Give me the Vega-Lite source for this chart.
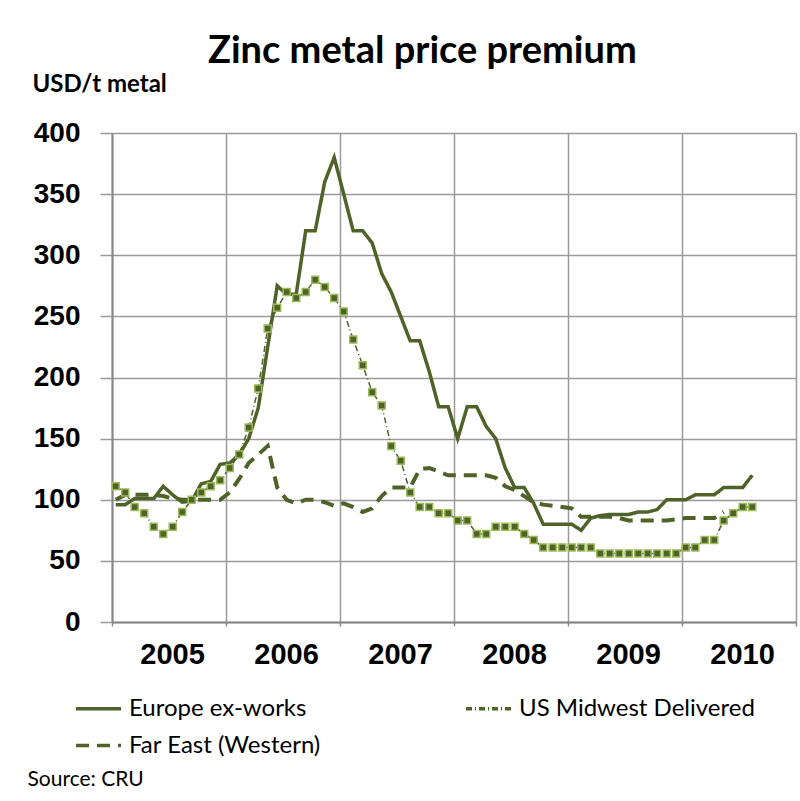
{
  "$schema": "https://vega.github.io/schema/vega-lite/v6.json",
  "autosize": {"type": "none"},
  "padding": {"left": 112, "top": 133, "right": 4, "bottom": 179},
  "width": 684,
  "height": 489,
  "background": "white",
  "config": {"view": {"stroke": null}},
  "title": {
    "text": "Zinc metal price premium",
    "anchor": "start",
    "frame": "group",
    "dx": 96,
    "offset": 1,
    "font": "Lato",
    "fontSize": 38,
    "fontWeight": "bold",
    "color": "#000000"
  },
  "datasets": {
    "prices": [
      {"series": "Europe ex-works", "m": 0, "v": 96},
      {"series": "Europe ex-works", "m": 1, "v": 96},
      {"series": "Europe ex-works", "m": 2, "v": 101},
      {"series": "Europe ex-works", "m": 3, "v": 101},
      {"series": "Europe ex-works", "m": 4, "v": 101},
      {"series": "Europe ex-works", "m": 5, "v": 111},
      {"series": "Europe ex-works", "m": 6, "v": 104},
      {"series": "Europe ex-works", "m": 7, "v": 98},
      {"series": "Europe ex-works", "m": 8, "v": 99},
      {"series": "Europe ex-works", "m": 9, "v": 113},
      {"series": "Europe ex-works", "m": 10, "v": 115},
      {"series": "Europe ex-works", "m": 11, "v": 129},
      {"series": "Europe ex-works", "m": 12, "v": 130},
      {"series": "Europe ex-works", "m": 13, "v": 137},
      {"series": "Europe ex-works", "m": 14, "v": 150},
      {"series": "Europe ex-works", "m": 15, "v": 175},
      {"series": "Europe ex-works", "m": 16, "v": 225},
      {"series": "Europe ex-works", "m": 17, "v": 275},
      {"series": "Europe ex-works", "m": 18, "v": 268},
      {"series": "Europe ex-works", "m": 19, "v": 268},
      {"series": "Europe ex-works", "m": 20, "v": 320},
      {"series": "Europe ex-works", "m": 21, "v": 320},
      {"series": "Europe ex-works", "m": 22, "v": 360},
      {"series": "Europe ex-works", "m": 23, "v": 380},
      {"series": "Europe ex-works", "m": 24, "v": 350},
      {"series": "Europe ex-works", "m": 25, "v": 320},
      {"series": "Europe ex-works", "m": 26, "v": 320},
      {"series": "Europe ex-works", "m": 27, "v": 310},
      {"series": "Europe ex-works", "m": 28, "v": 285},
      {"series": "Europe ex-works", "m": 29, "v": 270},
      {"series": "Europe ex-works", "m": 30, "v": 250},
      {"series": "Europe ex-works", "m": 31, "v": 230},
      {"series": "Europe ex-works", "m": 32, "v": 230},
      {"series": "Europe ex-works", "m": 33, "v": 205},
      {"series": "Europe ex-works", "m": 34, "v": 176},
      {"series": "Europe ex-works", "m": 35, "v": 176},
      {"series": "Europe ex-works", "m": 36, "v": 150},
      {"series": "Europe ex-works", "m": 37, "v": 176},
      {"series": "Europe ex-works", "m": 38, "v": 176},
      {"series": "Europe ex-works", "m": 39, "v": 160},
      {"series": "Europe ex-works", "m": 40, "v": 150},
      {"series": "Europe ex-works", "m": 41, "v": 126},
      {"series": "Europe ex-works", "m": 42, "v": 110},
      {"series": "Europe ex-works", "m": 43, "v": 110},
      {"series": "Europe ex-works", "m": 44, "v": 97},
      {"series": "Europe ex-works", "m": 45, "v": 80},
      {"series": "Europe ex-works", "m": 46, "v": 80},
      {"series": "Europe ex-works", "m": 47, "v": 80},
      {"series": "Europe ex-works", "m": 48, "v": 80},
      {"series": "Europe ex-works", "m": 49, "v": 75},
      {"series": "Europe ex-works", "m": 50, "v": 85},
      {"series": "Europe ex-works", "m": 51, "v": 87},
      {"series": "Europe ex-works", "m": 52, "v": 88},
      {"series": "Europe ex-works", "m": 53, "v": 88},
      {"series": "Europe ex-works", "m": 54, "v": 88},
      {"series": "Europe ex-works", "m": 55, "v": 90},
      {"series": "Europe ex-works", "m": 56, "v": 90},
      {"series": "Europe ex-works", "m": 57, "v": 92},
      {"series": "Europe ex-works", "m": 58, "v": 100},
      {"series": "Europe ex-works", "m": 59, "v": 100},
      {"series": "Europe ex-works", "m": 60, "v": 100},
      {"series": "Europe ex-works", "m": 61, "v": 104},
      {"series": "Europe ex-works", "m": 62, "v": 104},
      {"series": "Europe ex-works", "m": 63, "v": 104},
      {"series": "Europe ex-works", "m": 64, "v": 110},
      {"series": "Europe ex-works", "m": 65, "v": 110},
      {"series": "Europe ex-works", "m": 66, "v": 110},
      {"series": "Europe ex-works", "m": 67, "v": 120},
      {"series": "US Midwest Delivered", "m": 0, "v": 111},
      {"series": "US Midwest Delivered", "m": 1, "v": 106},
      {"series": "US Midwest Delivered", "m": 2, "v": 94},
      {"series": "US Midwest Delivered", "m": 3, "v": 89},
      {"series": "US Midwest Delivered", "m": 4, "v": 78},
      {"series": "US Midwest Delivered", "m": 5, "v": 72},
      {"series": "US Midwest Delivered", "m": 6, "v": 78},
      {"series": "US Midwest Delivered", "m": 7, "v": 90},
      {"series": "US Midwest Delivered", "m": 8, "v": 100},
      {"series": "US Midwest Delivered", "m": 9, "v": 106},
      {"series": "US Midwest Delivered", "m": 10, "v": 111},
      {"series": "US Midwest Delivered", "m": 11, "v": 116},
      {"series": "US Midwest Delivered", "m": 12, "v": 126},
      {"series": "US Midwest Delivered", "m": 13, "v": 137},
      {"series": "US Midwest Delivered", "m": 14, "v": 159},
      {"series": "US Midwest Delivered", "m": 15, "v": 191},
      {"series": "US Midwest Delivered", "m": 16, "v": 240},
      {"series": "US Midwest Delivered", "m": 17, "v": 257},
      {"series": "US Midwest Delivered", "m": 18, "v": 270},
      {"series": "US Midwest Delivered", "m": 19, "v": 265},
      {"series": "US Midwest Delivered", "m": 20, "v": 270},
      {"series": "US Midwest Delivered", "m": 21, "v": 280},
      {"series": "US Midwest Delivered", "m": 22, "v": 274},
      {"series": "US Midwest Delivered", "m": 23, "v": 265},
      {"series": "US Midwest Delivered", "m": 24, "v": 254},
      {"series": "US Midwest Delivered", "m": 25, "v": 231},
      {"series": "US Midwest Delivered", "m": 26, "v": 210},
      {"series": "US Midwest Delivered", "m": 27, "v": 188},
      {"series": "US Midwest Delivered", "m": 28, "v": 177},
      {"series": "US Midwest Delivered", "m": 29, "v": 144},
      {"series": "US Midwest Delivered", "m": 30, "v": 132},
      {"series": "US Midwest Delivered", "m": 31, "v": 106},
      {"series": "US Midwest Delivered", "m": 32, "v": 94},
      {"series": "US Midwest Delivered", "m": 33, "v": 94},
      {"series": "US Midwest Delivered", "m": 34, "v": 89},
      {"series": "US Midwest Delivered", "m": 35, "v": 89},
      {"series": "US Midwest Delivered", "m": 36, "v": 83},
      {"series": "US Midwest Delivered", "m": 37, "v": 83},
      {"series": "US Midwest Delivered", "m": 38, "v": 72},
      {"series": "US Midwest Delivered", "m": 39, "v": 72},
      {"series": "US Midwest Delivered", "m": 40, "v": 78},
      {"series": "US Midwest Delivered", "m": 41, "v": 78},
      {"series": "US Midwest Delivered", "m": 42, "v": 78},
      {"series": "US Midwest Delivered", "m": 43, "v": 72},
      {"series": "US Midwest Delivered", "m": 44, "v": 67},
      {"series": "US Midwest Delivered", "m": 45, "v": 61},
      {"series": "US Midwest Delivered", "m": 46, "v": 61},
      {"series": "US Midwest Delivered", "m": 47, "v": 61},
      {"series": "US Midwest Delivered", "m": 48, "v": 61},
      {"series": "US Midwest Delivered", "m": 49, "v": 61},
      {"series": "US Midwest Delivered", "m": 50, "v": 61},
      {"series": "US Midwest Delivered", "m": 51, "v": 56},
      {"series": "US Midwest Delivered", "m": 52, "v": 56},
      {"series": "US Midwest Delivered", "m": 53, "v": 56},
      {"series": "US Midwest Delivered", "m": 54, "v": 56},
      {"series": "US Midwest Delivered", "m": 55, "v": 56},
      {"series": "US Midwest Delivered", "m": 56, "v": 56},
      {"series": "US Midwest Delivered", "m": 57, "v": 56},
      {"series": "US Midwest Delivered", "m": 58, "v": 56},
      {"series": "US Midwest Delivered", "m": 59, "v": 56},
      {"series": "US Midwest Delivered", "m": 60, "v": 61},
      {"series": "US Midwest Delivered", "m": 61, "v": 61},
      {"series": "US Midwest Delivered", "m": 62, "v": 67},
      {"series": "US Midwest Delivered", "m": 63, "v": 67},
      {"series": "US Midwest Delivered", "m": 64, "v": 83},
      {"series": "US Midwest Delivered", "m": 65, "v": 89},
      {"series": "US Midwest Delivered", "m": 66, "v": 94},
      {"series": "US Midwest Delivered", "m": 67, "v": 94},
      {"series": "Far East (Western)", "m": 0, "v": 100},
      {"series": "Far East (Western)", "m": 1, "v": 104},
      {"series": "Far East (Western)", "m": 2, "v": 104},
      {"series": "Far East (Western)", "m": 3, "v": 104},
      {"series": "Far East (Western)", "m": 4, "v": 104},
      {"series": "Far East (Western)", "m": 5, "v": 103},
      {"series": "Far East (Western)", "m": 6, "v": 101},
      {"series": "Far East (Western)", "m": 7, "v": 100},
      {"series": "Far East (Western)", "m": 8, "v": 100},
      {"series": "Far East (Western)", "m": 9, "v": 100},
      {"series": "Far East (Western)", "m": 10, "v": 100},
      {"series": "Far East (Western)", "m": 11, "v": 100},
      {"series": "Far East (Western)", "m": 12, "v": 106},
      {"series": "Far East (Western)", "m": 13, "v": 117},
      {"series": "Far East (Western)", "m": 14, "v": 130},
      {"series": "Far East (Western)", "m": 15, "v": 137},
      {"series": "Far East (Western)", "m": 16, "v": 144},
      {"series": "Far East (Western)", "m": 17, "v": 110},
      {"series": "Far East (Western)", "m": 18, "v": 100},
      {"series": "Far East (Western)", "m": 19, "v": 97},
      {"series": "Far East (Western)", "m": 20, "v": 100},
      {"series": "Far East (Western)", "m": 21, "v": 100},
      {"series": "Far East (Western)", "m": 22, "v": 98},
      {"series": "Far East (Western)", "m": 23, "v": 95},
      {"series": "Far East (Western)", "m": 24, "v": 97},
      {"series": "Far East (Western)", "m": 25, "v": 94},
      {"series": "Far East (Western)", "m": 26, "v": 90},
      {"series": "Far East (Western)", "m": 27, "v": 93},
      {"series": "Far East (Western)", "m": 28, "v": 103},
      {"series": "Far East (Western)", "m": 29, "v": 110},
      {"series": "Far East (Western)", "m": 30, "v": 110},
      {"series": "Far East (Western)", "m": 31, "v": 110},
      {"series": "Far East (Western)", "m": 32, "v": 125},
      {"series": "Far East (Western)", "m": 33, "v": 126},
      {"series": "Far East (Western)", "m": 34, "v": 123},
      {"series": "Far East (Western)", "m": 35, "v": 120},
      {"series": "Far East (Western)", "m": 36, "v": 120},
      {"series": "Far East (Western)", "m": 37, "v": 120},
      {"series": "Far East (Western)", "m": 38, "v": 120},
      {"series": "Far East (Western)", "m": 39, "v": 120},
      {"series": "Far East (Western)", "m": 40, "v": 118},
      {"series": "Far East (Western)", "m": 41, "v": 111},
      {"series": "Far East (Western)", "m": 42, "v": 108},
      {"series": "Far East (Western)", "m": 43, "v": 103},
      {"series": "Far East (Western)", "m": 44, "v": 98},
      {"series": "Far East (Western)", "m": 45, "v": 96},
      {"series": "Far East (Western)", "m": 46, "v": 95},
      {"series": "Far East (Western)", "m": 47, "v": 94},
      {"series": "Far East (Western)", "m": 48, "v": 93},
      {"series": "Far East (Western)", "m": 49, "v": 86},
      {"series": "Far East (Western)", "m": 50, "v": 86},
      {"series": "Far East (Western)", "m": 51, "v": 86},
      {"series": "Far East (Western)", "m": 52, "v": 86},
      {"series": "Far East (Western)", "m": 53, "v": 85},
      {"series": "Far East (Western)", "m": 54, "v": 83},
      {"series": "Far East (Western)", "m": 55, "v": 83},
      {"series": "Far East (Western)", "m": 56, "v": 83},
      {"series": "Far East (Western)", "m": 57, "v": 83},
      {"series": "Far East (Western)", "m": 58, "v": 83},
      {"series": "Far East (Western)", "m": 59, "v": 84},
      {"series": "Far East (Western)", "m": 60, "v": 85},
      {"series": "Far East (Western)", "m": 61, "v": 85},
      {"series": "Far East (Western)", "m": 62, "v": 85},
      {"series": "Far East (Western)", "m": 63, "v": 85},
      {"series": "Far East (Western)", "m": 64, "v": 90}
    ]
  },
  "data": {"name": "prices"},
  "encoding": {
    "x": {
      "field": "m",
      "type": "quantitative",
      "scale": {"domain": [-0.39, 71.61], "nice": false, "zero": false},
      "axis": {
        "title": "Source: CRU",
        "titleX": -85,
        "titleY": 163,
        "titleAlign": "left",
        "titleBaseline": "alphabetic",
        "titleFont": "Lato",
        "titleFontSize": 21,
        "titleFontWeight": "normal",
        "titleColor": "#000000",
        "values": [-0.39, 11.61, 23.61, 35.61, 47.61, 59.61, 71.61],
        "labelExpr": "datum.value > 70 ? '' : toString(2005 + round((datum.value + 0.39) / 12))",
        "labelOffset": 60,
        "labelAlign": "center",
        "labelFlush": false,
        "labelOverlap": false,
        "labelBound": false,
        "labelFont": "Liberation Sans",
        "labelFontSize": 29,
        "labelFontWeight": "bold",
        "labelColor": "#000000",
        "labelPadding": 14,
        "tickSize": 4,
        "tickColor": "#8c8c8c",
        "tickWidth": 1.5,
        "grid": true,
        "gridColor": "#9a9a9a",
        "gridWidth": 1.5,
        "domainColor": "#868686",
        "domainWidth": 2
      }
    },
    "y": {
      "field": "v",
      "type": "quantitative",
      "scale": {"domain": [0, 400], "nice": false},
      "axis": {
        "title": "USD/t metal",
        "titleAngle": 0,
        "titleX": -80,
        "titleY": -42,
        "titleAlign": "left",
        "titleBaseline": "alphabetic",
        "titleFont": "Lato",
        "titleFontSize": 24,
        "titleFontWeight": "bold",
        "titleColor": "#000000",
        "values": [0, 50, 100, 150, 200, 250, 300, 350, 400],
        "labelFont": "Liberation Sans",
        "labelFontSize": 28,
        "labelFontWeight": "bold",
        "labelColor": "#000000",
        "labelPadding": 20,
        "tickSize": 12,
        "tickColor": "#9a9a9a",
        "tickWidth": 1.5,
        "grid": true,
        "gridColor": "#9a9a9a",
        "gridWidth": 1.5,
        "domainColor": "#868686",
        "domainWidth": 2
      }
    }
  },
  "layer": [
    {
      "mark": {"type": "line", "strokeCap": "butt"},
      "encoding": {
        "color": {
          "field": "series",
          "type": "nominal",
          "scale": {
            "domain": ["Europe ex-works", "US Midwest Delivered", "Far East (Western)"],
            "range": ["#4F6228", "#4F6228", "#4F6228"]
          },
          "legend": {
            "title": null,
            "direction": "horizontal",
            "orient": "none",
            "legendX": -38,
            "legendY": 551,
            "columns": 2,
            "columnPadding": 138,
            "rowPadding": -21,
            "padding": 0,
            "symbolType": "stroke",
            "symbolSize": 2025,
            "symbolStrokeWidth": 3.5,
            "labelFont": "Lato",
            "labelFontSize": 24,
            "labelColor": "#000000",
            "labelLimit": 400,
            "labelOffset": 6
          }
        },
        "strokeDash": {
          "field": "series",
          "type": "nominal",
          "scale": {
            "domain": ["Europe ex-works", "US Midwest Delivered", "Far East (Western)"],
            "range": [[1, 0], [6, 3, 1, 3], [13, 8]]
          },
          "legend": {
            "title": null,
            "direction": "horizontal",
            "orient": "none",
            "legendX": -38,
            "legendY": 551,
            "columns": 2,
            "columnPadding": 138,
            "rowPadding": -21,
            "padding": 0,
            "symbolType": "stroke",
            "symbolSize": 2025,
            "symbolStrokeWidth": 3.5,
            "labelFont": "Lato",
            "labelFontSize": 24,
            "labelColor": "#000000",
            "labelLimit": 400,
            "labelOffset": 6
          }
        },
        "strokeWidth": {
          "condition": [
            {"test": "datum.series === 'Far East (Western)'", "value": 4},
            {"test": "datum.series === 'US Midwest Delivered'", "value": 1.5}
          ],
          "value": 3.5
        }
      }
    },
    {
      "transform": [{"filter": "datum.series === 'US Midwest Delivered'"}],
      "mark": {
        "type": "point",
        "shape": "square",
        "filled": true,
        "size": 49,
        "fill": "#4F6228",
        "stroke": "#9BBB59",
        "strokeWidth": 1.5,
        "opacity": 1
      }
    }
  ]
}
